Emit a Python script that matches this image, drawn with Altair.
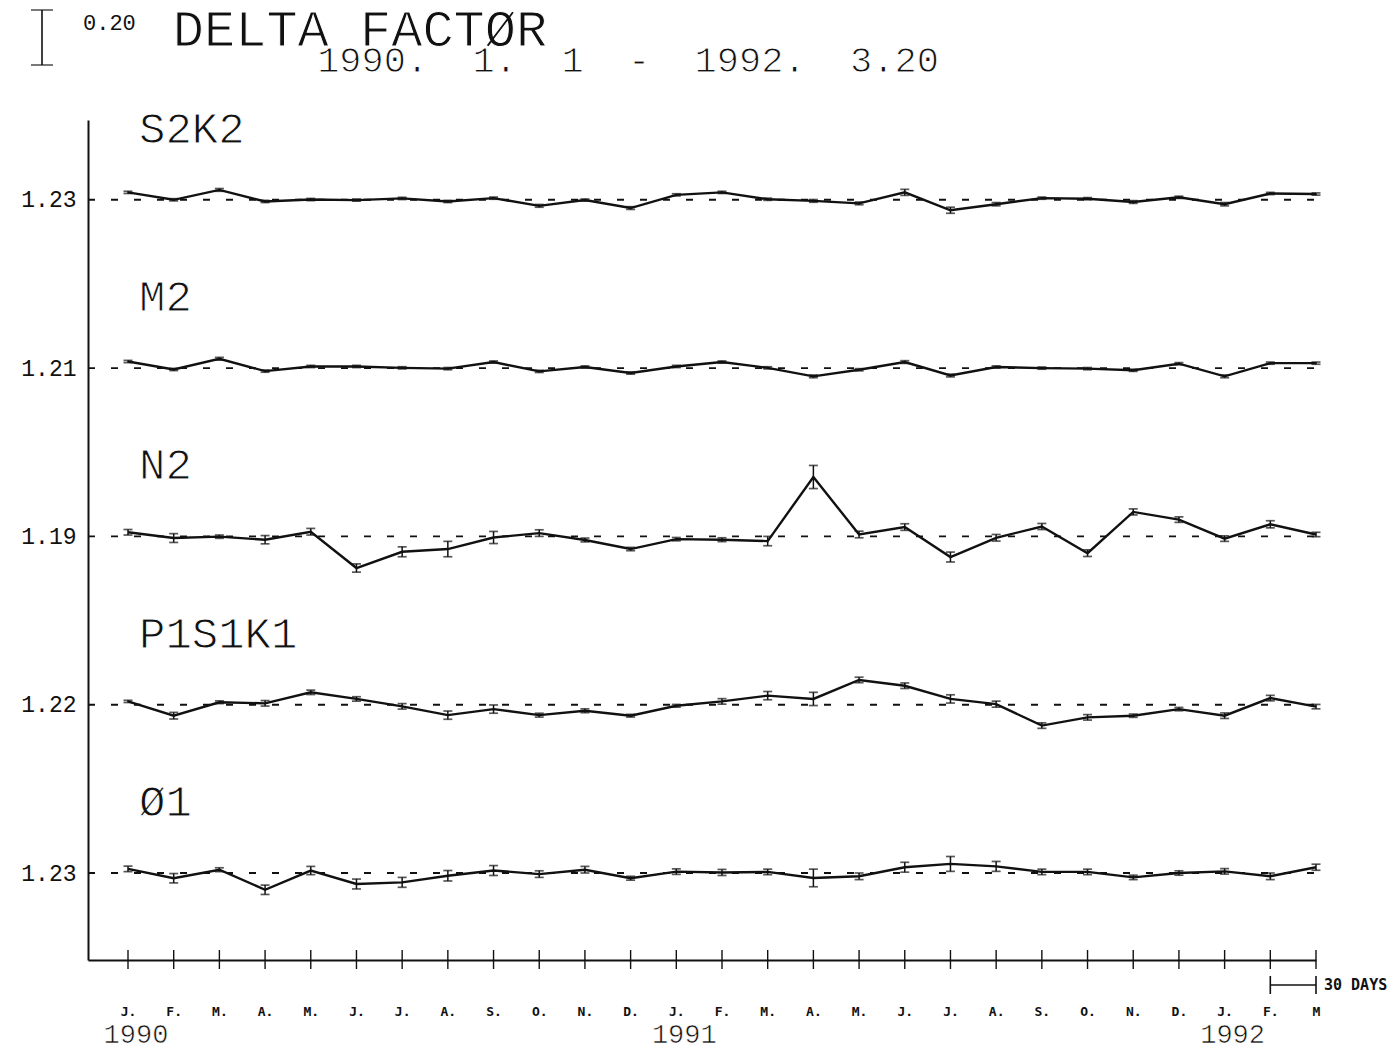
import json
import altair as alt
import pandas as pd

# ---------------- data ----------------
MONTHS = ["J.", "F.", "M.", "A.", "M.", "J.", "J.", "A.", "S.", "O.", "N.", "D.",
          "J.", "F.", "M.", "A.", "M.", "J.", "J.", "A.", "S.", "O.", "N.", "D.",
          "J.", "F.", "M"]
YEARS = ["1990", "1991", "1992"]
YEAR_AT = [0, 12, 24]

TITLE = "DELTA FACTØR"
PERIOD = "1990. 1. 1 - 1992. 3.20"
SCALE_LABEL = "0.20"
SCALE_VALUE = 0.20
DAYS_LABEL = "30 DAYS"

SERIES = ["S2K2", "M2", "N2", "P1S1K1", "Ø1"]
BASELINES = [1.23, 1.21, 1.19, 1.22, 1.23]

S2K2 = [1.257, 1.230, 1.266, 1.224, 1.231, 1.229, 1.235, 1.224, 1.236, 1.208, 1.229, 1.200,
        1.248, 1.257, 1.232, 1.226, 1.217, 1.257, 1.192, 1.214, 1.236, 1.234, 1.222, 1.239,
        1.214, 1.253, 1.251]
S2K2_ERR = [0.004, 0.004, 0.005, 0.004, 0.004, 0.004, 0.004, 0.004, 0.004, 0.005, 0.004, 0.005,
            0.004, 0.004, 0.004, 0.005, 0.005, 0.011, 0.011, 0.006, 0.004, 0.004, 0.005, 0.004,
            0.006, 0.004, 0.004]

M2 = [1.234, 1.205, 1.244, 1.199, 1.216, 1.216, 1.211, 1.208, 1.232, 1.198, 1.214, 1.192,
      1.216, 1.232, 1.211, 1.180, 1.204, 1.232, 1.183, 1.214, 1.210, 1.208, 1.202, 1.226,
      1.180, 1.228, 1.228]
M2_ERR = [0.004, 0.004, 0.005, 0.004, 0.004, 0.004, 0.004, 0.004, 0.004, 0.004, 0.004, 0.004,
          0.004, 0.004, 0.004, 0.005, 0.004, 0.005, 0.005, 0.004, 0.004, 0.004, 0.004, 0.004,
          0.005, 0.004, 0.004]

N2 = [1.205, 1.184, 1.189, 1.178, 1.207, 1.075, 1.134, 1.144, 1.186, 1.202, 1.177, 1.144,
      1.180, 1.178, 1.173, 1.406, 1.197, 1.224, 1.115, 1.185, 1.226, 1.129, 1.279, 1.251,
      1.182, 1.234, 1.197]
N2_ERR = [0.010, 0.016, 0.006, 0.015, 0.012, 0.015, 0.018, 0.028, 0.022, 0.012, 0.007, 0.006,
          0.006, 0.007, 0.017, 0.042, 0.012, 0.012, 0.018, 0.012, 0.011, 0.012, 0.011, 0.010,
          0.010, 0.013, 0.008]

P1S1K1 = [1.232, 1.180, 1.229, 1.225, 1.265, 1.241, 1.214, 1.182, 1.204, 1.182, 1.198, 1.180,
          1.216, 1.232, 1.253, 1.241, 1.310, 1.289, 1.241, 1.222, 1.144, 1.174, 1.180, 1.204,
          1.180, 1.244, 1.213]
P1S1K1_ERR = [0.004, 0.012, 0.005, 0.010, 0.008, 0.008, 0.010, 0.015, 0.015, 0.007, 0.007, 0.005,
              0.005, 0.010, 0.015, 0.024, 0.010, 0.010, 0.015, 0.011, 0.010, 0.010, 0.006, 0.006,
              0.010, 0.010, 0.008]

O1 = [1.245, 1.211, 1.242, 1.169, 1.239, 1.190, 1.196, 1.220, 1.239, 1.226, 1.242, 1.211,
      1.235, 1.232, 1.234, 1.212, 1.218, 1.251, 1.263, 1.254, 1.234, 1.234, 1.214, 1.230,
      1.236, 1.218, 1.251]
O1_ERR = [0.010, 0.017, 0.007, 0.017, 0.015, 0.018, 0.018, 0.019, 0.018, 0.012, 0.012, 0.007,
          0.010, 0.011, 0.010, 0.032, 0.012, 0.018, 0.027, 0.018, 0.010, 0.010, 0.008, 0.008,
          0.010, 0.012, 0.011]

VALUES = [S2K2, M2, N2, P1S1K1, O1]
ERRORS = [S2K2_ERR, M2_ERR, N2_ERR, P1S1K1_ERR, O1_ERR]

# ---------------- layout ----------------
W, H = 1228, 840
PX = SCALE_VALUE / 55.0          # value units per pixel (the scale bar)
Y_DOMAIN = [0, H * PX]
X_DOMAIN = [-40 / 45.69, 26]
STEP = 168.3 * PX
BASE = 87 * PX
OFFSETS = [BASE + (len(SERIES) - 1 - i) * STEP for i in range(len(SERIES))]

rows = []
for i, name in enumerate(SERIES):
    for k, (v, e) in enumerate(zip(VALUES[i], ERRORS[i])):
        y = v - BASELINES[i] + OFFSETS[i]
        rows.append({"series": name, "idx": k, "value": v, "y": y, "lo": y - e, "hi": y + e})
df = pd.DataFrame(rows)

base_df = pd.DataFrame({"series": SERIES, "off": OFFSETS,
                        "label_y": [o + 70 * PX for o in OFFSETS]})

y_labels = [f"{b:.2f}" for b in BASELINES][::-1]
y_label_expr = f"{json.dumps(y_labels)}[round((datum.value - {BASE}) / {STEP})]"
x_label_expr = f"{json.dumps(MONTHS)}[round(datum.value)]"

MONO = "Liberation Mono"
INK = "#111111"

XS = alt.Scale(domain=X_DOMAIN, nice=False, zero=False)
YS = alt.Scale(domain=Y_DOMAIN, nice=False, zero=False)
AX = alt.Axis(values=list(range(len(MONTHS))), labelExpr=x_label_expr, ticks=False,
              domainColor=INK, domainWidth=2, grid=False, title=None,
              labelFont="DejaVu Sans Mono", labelFontSize=13, labelFontWeight="bold",
              labelColor=INK, labelPadding=45, labelFlush=False, labelOverlap=False,
              labelBaseline="top")
AY = alt.Axis(values=OFFSETS, labelExpr=y_label_expr, ticks=False, domainColor=INK,
              domainWidth=2, grid=False, title=None, labelFont=MONO,
              labelFontSize=23, labelColor=INK, labelPadding=12, labelFlush=False,
              labelOverlap=False)

def X(field):
    return alt.X(f"{field}:Q", scale=XS, axis=AX)

def Y(field):
    return alt.Y(f"{field}:Q", scale=YS, axis=AY)

THIN = dict(stroke="white", strokeWidth=1.0)

dashed = alt.Chart(base_df).mark_rule(color=INK, strokeWidth=1.9, strokeDash=[7, 16]).encode(
    y=Y("off"), x=alt.value(0), x2=alt.value(W + 14))

lines = alt.Chart(df).mark_line(color=INK, strokeWidth=2.4).encode(
    x=X("idx"), y=Y("y"), detail="series:N")

err = alt.Chart(df).mark_rule(color=INK, strokeWidth=1.5).encode(
    x=X("idx"), y=Y("lo"), y2="hi:Q")
cap_lo = alt.Chart(df).mark_tick(color=INK, orient="horizontal", size=9, thickness=1.7).encode(
    x=X("idx"), y=Y("lo"))
cap_hi = alt.Chart(df).mark_tick(color=INK, orient="horizontal", size=9, thickness=1.7).encode(
    x=X("idx"), y=Y("hi"))

month_df = pd.DataFrame({"idx": list(range(len(MONTHS)))})
xticks = alt.Chart(month_df).mark_rule(color=INK, strokeWidth=1.4).encode(
    x=X("idx"), y=alt.value(H - 10), y2=alt.value(H + 9))

series_labels = alt.Chart(base_df).mark_text(
    align="left", baseline="middle", font=MONO, fontSize=44, fill=INK, **THIN).encode(
    x=alt.value(51), y=Y("label_y"), text="series:N")

year_df = pd.DataFrame({"idx": YEAR_AT, "year": YEARS})
years = alt.Chart(year_df).mark_text(
    align="center", baseline="middle", font=MONO, fontSize=27, fill=INK, dx=8,
    stroke="white", strokeWidth=0.6).encode(x=X("idx"), y=alt.value(H + 75), text="year:N")

title = alt.Chart(pd.DataFrame({"t": [TITLE]})).mark_text(
    align="center", baseline="middle", font=MONO, fontSize=52, fill=INK, **THIN).encode(
    x=alt.value(272), y=alt.value(-90), text="t:N")
period = alt.Chart(pd.DataFrame({"t": [PERIOD.replace(" ", " \u00a0")]})).mark_text(
    align="center", baseline="middle", font=MONO, fontSize=37, fill=INK, **THIN).encode(
    x=alt.value(540), y=alt.value(-59), text="t:N")

# scale bar for SCALE_VALUE
bar_df = pd.DataFrame({"lo": [(H + 55) * PX], "hi": [(H + 55) * PX + SCALE_VALUE]})
bar = alt.Chart(bar_df).mark_rule(color=INK, strokeWidth=1.6).encode(
    x=alt.value(-46), y=Y("lo"), y2="hi:Q")
bar_lo = alt.Chart(bar_df).mark_tick(color=INK, orient="horizontal", size=22, thickness=1.6).encode(
    x=alt.value(-46), y=Y("lo"))
bar_hi = alt.Chart(bar_df).mark_tick(color=INK, orient="horizontal", size=22, thickness=1.6).encode(
    x=alt.value(-46), y=Y("hi"))
bar_text = alt.Chart(pd.DataFrame({"t": [SCALE_LABEL]})).mark_text(
    align="left", baseline="middle", font=MONO, fontSize=22, fill=INK).encode(
    x=alt.value(-5), y=alt.value(-97), text="t:N")

# 30 days bracket
days_df = pd.DataFrame({"idx": [25], "idx2": [26]})
days_h = alt.Chart(days_df).mark_rule(color=INK, strokeWidth=1.6).encode(
    x=X("idx"), x2="idx2:Q", y=alt.value(H + 25))
days_v = alt.Chart(pd.DataFrame({"idx": [25, 26]})).mark_rule(color=INK, strokeWidth=1.6).encode(
    x=X("idx"), y=alt.value(H + 16), y2=alt.value(H + 34))
days_text = alt.Chart(pd.DataFrame({"idx": [26], "t": [DAYS_LABEL]})).mark_text(
    align="left", baseline="middle", font="DejaVu Sans Mono", fontWeight="bold", fontSize=15,
    color=INK, dx=8).encode(x=X("idx"), y=alt.value(H + 25), text="t:N")

chart = alt.layer(
    dashed, lines, err, cap_lo, cap_hi, xticks, series_labels, years, title, period,
    bar, bar_lo, bar_hi, bar_text, days_h, days_v, days_text
).properties(
    width=W, height=H, background="white",
    autosize=alt.AutoSizeParams(type="none"),
    padding={"left": 80, "top": 112, "right": 75, "bottom": 90},
).configure_view(stroke=None)

chart.save("out.html", embed_options={"renderer": "svg", "actions": False})
